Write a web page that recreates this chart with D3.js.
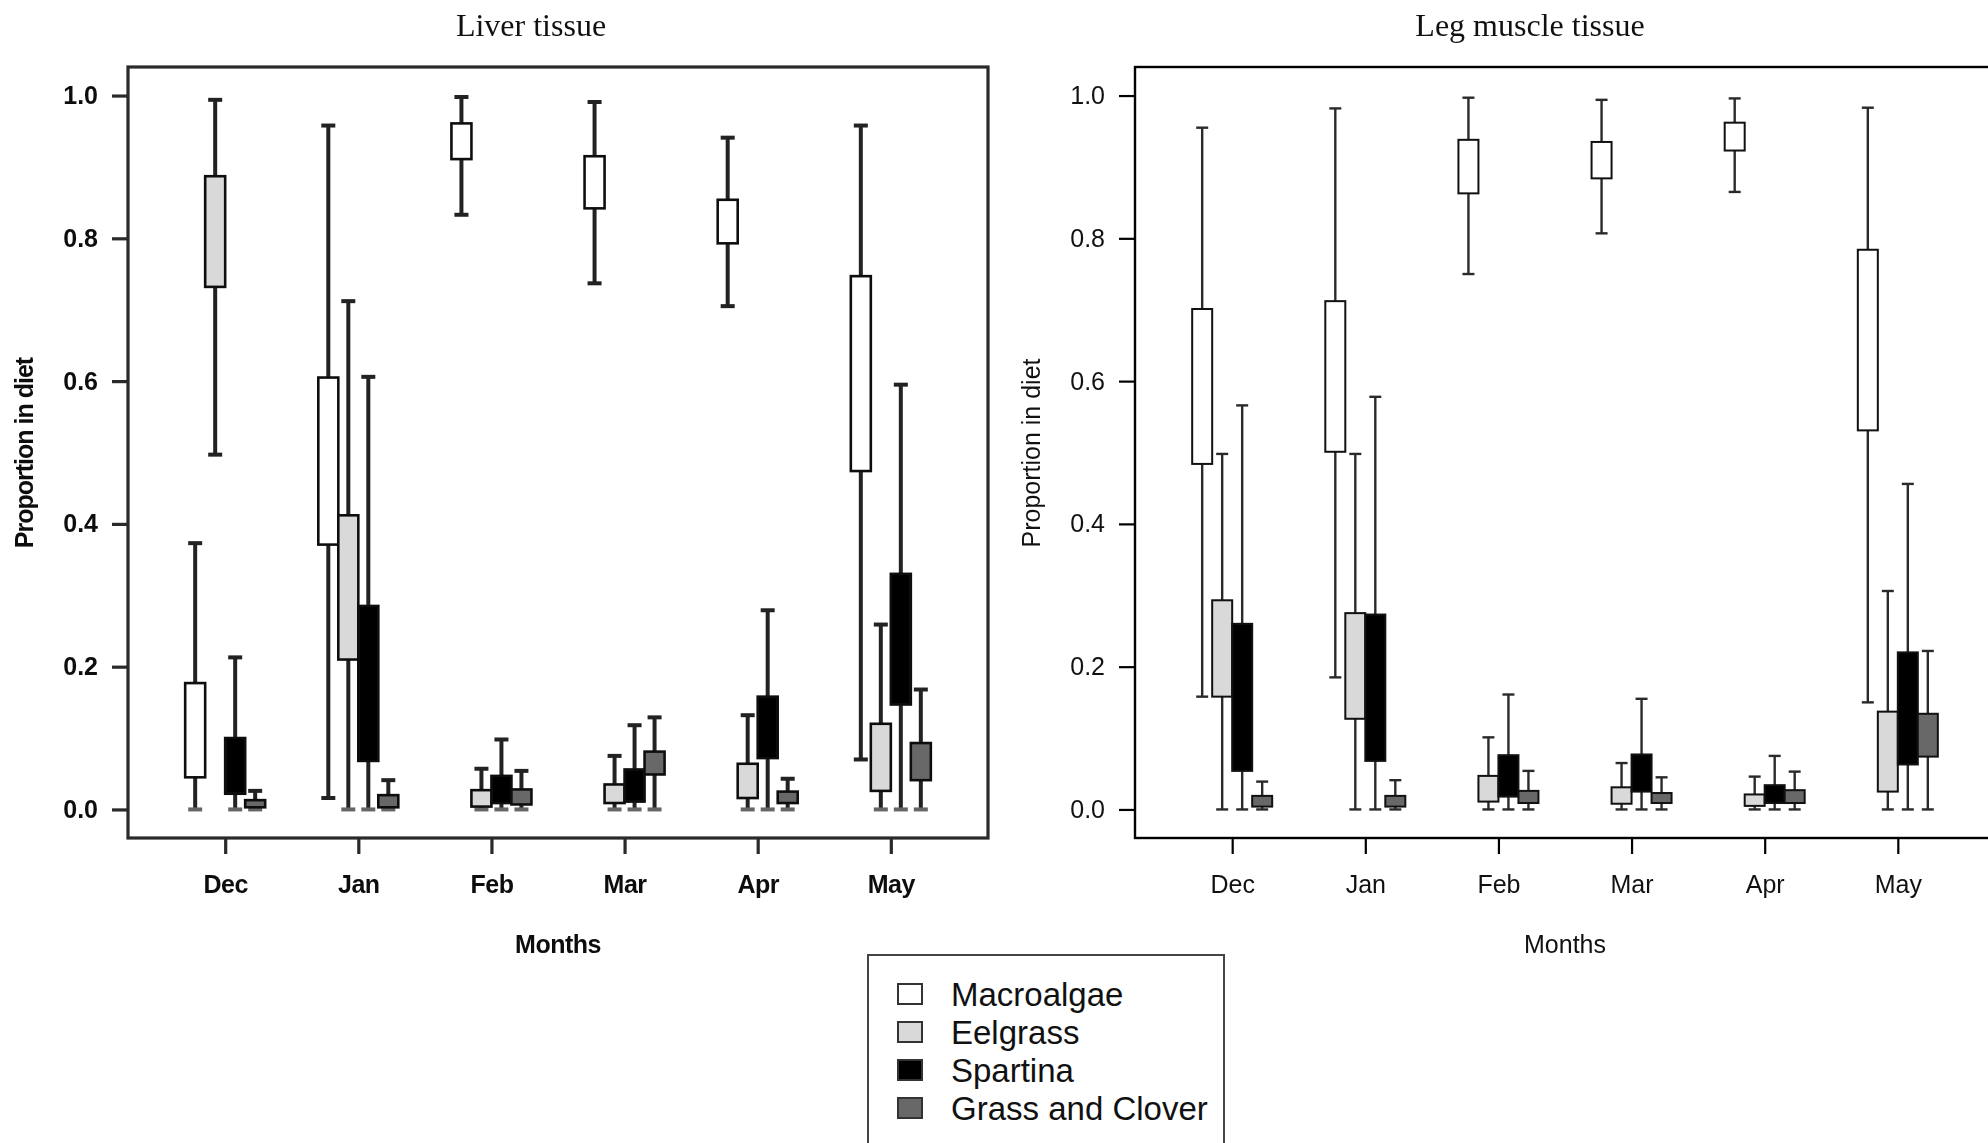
<!DOCTYPE html>
<html>
<head>
<meta charset="utf-8">
<script src="https://cdn.jsdelivr.net/npm/d3@7"></script>
<style>
  html, body { margin: 0; padding: 0; background: #fff; }
  svg { display: block; }
</style>
</head>
<body>
<svg id="chart" width="1988" height="1143"></svg>
<script>
// Months sampled and diet sources
const months = ["Dec", "Jan", "Feb", "Mar", "Apr", "May"];
const sources = ["Macroalgae", "Eelgrass", "Spartina", "Grass and Clover"];
const yTicks = [0, 0.2, 0.4, 0.6, 0.8, 1.0];

// Posterior proportions per month: [lower whisker, lower quartile, upper quartile, upper whisker]
const liverMacroalgae = [[0, 0.045, 0.177, 0.373], [0.016, 0.371, 0.605, 0.958], [0.833, 0.911, 0.961, 0.998], [0.737, 0.842, 0.915, 0.991], [0.705, 0.793, 0.854, 0.941], [0.070, 0.474, 0.747, 0.958]];
const liverEelgrass   = [[0.497, 0.732, 0.887, 0.994], [0, 0.210, 0.412, 0.712], [0, 0.004, 0.027, 0.057], [0, 0.009, 0.035, 0.075], [0, 0.016, 0.064, 0.132], [0, 0.026, 0.120, 0.259]];
const liverSpartina   = [[0, 0.022, 0.100, 0.213], [0, 0.068, 0.285, 0.606], [0, 0.009, 0.047, 0.098], [0, 0.011, 0.056, 0.118], [0, 0.072, 0.158, 0.279], [0, 0.147, 0.330, 0.595]];
const liverGrass      = [[0, 0.003, 0.013, 0.026], [0, 0.003, 0.020, 0.041], [0, 0.007, 0.028, 0.054], [0, 0.049, 0.081, 0.129], [0, 0.009, 0.025, 0.043], [0, 0.041, 0.093, 0.168]];

const muscleMacroalgae = [[0.158, 0.484, 0.701, 0.955], [0.185, 0.501, 0.712, 0.982], [0.750, 0.863, 0.938, 0.997], [0.807, 0.884, 0.935, 0.994], [0.865, 0.923, 0.962, 0.996], [0.150, 0.531, 0.784, 0.983]];
const muscleEelgrass   = [[0, 0.158, 0.293, 0.498], [0, 0.127, 0.275, 0.498], [0, 0.011, 0.047, 0.101], [0, 0.008, 0.031, 0.065], [0, 0.005, 0.021, 0.046], [0, 0.025, 0.137, 0.306]];
const muscleSpartina   = [[0, 0.054, 0.260, 0.566], [0, 0.068, 0.273, 0.578], [0, 0.018, 0.076, 0.161], [0, 0.025, 0.077, 0.155], [0, 0.009, 0.034, 0.075], [0, 0.063, 0.220, 0.456]];
const muscleGrass      = [[0, 0.004, 0.019, 0.039], [0, 0.004, 0.019, 0.041], [0, 0.009, 0.026, 0.054], [0, 0.009, 0.023, 0.045], [0, 0.009, 0.027, 0.053], [0, 0.074, 0.134, 0.222]];

const fills = ["#ffffff", "#d9d9d9", "#000000", "#686868"];

const svg = d3.select("#chart");

// soft rendering for the liver panel
const defs = svg.append("defs");
defs.append("filter").attr("id", "soft")
  .attr("x", "-5%").attr("y", "-5%").attr("width", "110%").attr("height", "110%")
  .append("feGaussianBlur").attr("stdDeviation", 0.55);

const panels = [
  {
    title: "Liver tissue", titleX: 531, x0: 128, x1: 988,
    series: [liverMacroalgae, liverEelgrass, liverSpartina, liverGrass],
    bold: true, frameW: 3.2, frameC: "#2a2a2a",
    whiskW: 4, whiskC: "#222", capW: 14, boxW: 2.6, soft: true
  },
  {
    title: "Leg muscle tissue", titleX: 1530, x0: 1135, x1: 1995,
    series: [muscleMacroalgae, muscleEelgrass, muscleSpartina, muscleGrass],
    bold: false, frameW: 2.4, frameC: "#000",
    whiskW: 2.4, whiskC: "#2a2a2a", capW: 12, boxW: 2, soft: false
  }
];

const yTop = 67, yBottom = 838;
const y = d3.scaleLinear().domain([-0.04, 1.04]).range([yBottom, yTop]);
const offset = d3.scaleBand().domain(sources).range([-40, 40]);

panels.forEach(p => {
  const g = svg.append("g");
  if (p.soft) g.attr("filter", "url(#soft)");
  const font = "'Liberation Sans', Arial, sans-serif";
  const weight = p.bold ? "bold" : "normal";

  const x = d3.scalePoint().domain(months).range([p.x0, p.x1]).padding(0.73);

  // frame
  g.append("rect")
    .attr("x", p.x0).attr("y", yTop)
    .attr("width", p.x1 - p.x0).attr("height", yBottom - yTop)
    .attr("fill", "none").attr("stroke", p.frameC).attr("stroke-width", p.frameW);

  // axes
  const ya = g.append("g").attr("transform", `translate(${p.x0},0)`)
    .call(d3.axisLeft(y).tickValues(yTicks).tickFormat(d3.format(".1f")).tickSize(16).tickPadding(14));
  const xa = g.append("g").attr("transform", `translate(0,${yBottom})`)
    .call(d3.axisBottom(x).tickSize(16).tickPadding(21));
  [ya, xa].forEach(a => {
    a.select(".domain").remove();
    a.selectAll("line").attr("stroke", p.frameC).attr("stroke-width", p.bold ? 3.2 : 2.2);
    a.selectAll("text").attr("font-family", font).attr("font-size", 25)
      .attr("font-weight", weight).attr("fill", "#111");
  });
  if (p.bold) xa.selectAll("text").attr("letter-spacing", -0.5);

  // boxes
  sources.forEach((s, si) => {
    const data = p.series[si];
    const cx = m => x(m) + offset(s) + offset.bandwidth() / 2;
    const bw = offset.bandwidth();
    const grp = g.append("g");
    data.forEach((d, i) => {
      const m = months[i];
      const [lo, q1, q3, hi] = d;
      // whisker line
      grp.append("line")
        .attr("x1", cx(m)).attr("x2", cx(m))
        .attr("y1", y(lo)).attr("y2", y(hi))
        .attr("stroke", p.whiskC).attr("stroke-width", p.whiskW);
      // caps
      [lo, hi].forEach(v => {
        grp.append("line")
          .attr("x1", cx(m) - p.capW / 2).attr("x2", cx(m) + p.capW / 2)
          .attr("y1", y(v)).attr("y2", y(v))
          .attr("stroke", v === 0 && p.bold ? "#666" : p.whiskC)
          .attr("stroke-width", p.whiskW);
      });
      // interquartile box
      grp.append("rect")
        .attr("x", cx(m) - bw / 2).attr("width", bw)
        .attr("y", y(q3)).attr("height", Math.max(1, y(q1) - y(q3)))
        .attr("fill", fills[si])
        .attr("stroke", "#111").attr("stroke-width", p.boxW);
    });
  });

  // axis titles
  const cxPanel = (p.x0 + p.x1) / 2;
  g.append("text")
    .attr("x", cxPanel).attr("y", 953)
    .attr("text-anchor", "middle")
    .attr("font-family", font).attr("font-size", 25).attr("font-weight", weight)
    .attr("letter-spacing", p.bold ? -0.5 : 0)
    .attr("fill", "#111").text("Months");
  g.append("text")
    .attr("transform", `translate(${p.x0 - 95},453) rotate(-90)`)
    .attr("text-anchor", "middle")
    .attr("font-family", font).attr("font-size", 25).attr("font-weight", weight)
    .attr("letter-spacing", p.bold ? -1 : 0)
    .attr("fill", "#111").text("Proportion in diet");

  // panel title
  svg.append("text")
    .attr("x", p.titleX).attr("y", 36)
    .attr("text-anchor", "middle")
    .attr("font-family", "'Liberation Serif', 'Times New Roman', serif")
    .attr("font-size", 32).attr("fill", "#111")
    .text(p.title);
});

// legend
const legend = svg.append("g").attr("transform", "translate(868,955)");
legend.append("rect")
  .attr("x", 0).attr("y", 0).attr("width", 356).attr("height", 300)
  .attr("fill", "#fff").attr("stroke", "#444").attr("stroke-width", 2);
const row = d3.scaleBand().domain(sources).range([20, 172]);
sources.forEach((s, i) => {
  const cy = row(s) + row.bandwidth() / 2;
  legend.append("rect")
    .attr("x", 30).attr("y", cy - 10).attr("width", 24).attr("height", 20)
    .attr("fill", fills[i]).attr("stroke", "#333").attr("stroke-width", 2);
  legend.append("text")
    .attr("x", 83).attr("y", cy).attr("dy", "0.36em")
    .attr("font-family", "'Liberation Sans', Arial, sans-serif")
    .attr("font-size", 33).attr("fill", "#111")
    .text(s);
});
</script>
</body>
</html>
